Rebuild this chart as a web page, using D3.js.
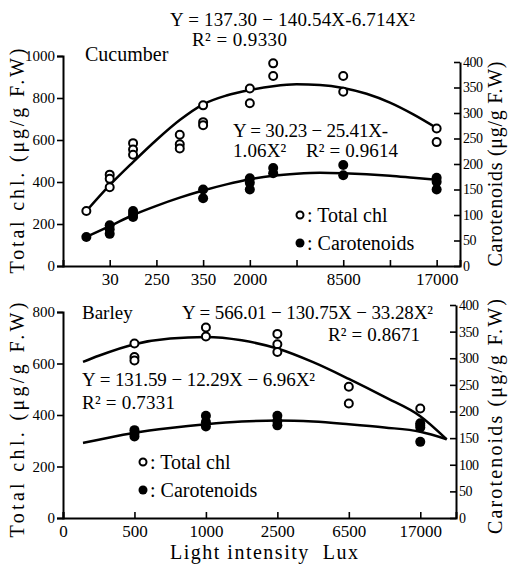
<!DOCTYPE html>
<html><head><meta charset="utf-8">
<script src="https://cdn.jsdelivr.net/npm/d3@7"></script>
<style>
body{margin:0;background:#fff;}
</style></head>
<body>
<script>
// ---------- DATA ----------
// Cucumber (top panel): x = ordinal level position
const cucTickPos = [1,2,3,4,5,6,7,8];
const cucTickLabels = ["30","250","350","2000","","8500","","17000"];
const cucChl = [[0.5,262],[1,435],[1,415],[1,375],[1.5,585],[1.5,555],[1.5,530],[2.5,625],[2.5,580],[2.5,560],
  [3,765],[3,685],[3,670],[4,845],[4,775],[4.5,965],[4.5,905],[6,905],[6,830],[8,655],[8,590]];
const cucCar = [[0.5,57],[1,80],[1,72],[1,63],[1.5,108],[1.5,102],[1.5,96],[3,150],[3,133],[4,172],[4,163],[4,150],
  [4.5,192],[4.5,182],[6,198],[6,178],[8,173],[8,165],[8,150]];
const cucChlFit = [[0.5,262],[1,385],[1.5,495],[2,600],[2.5,695],[3,770],[3.5,812],[4,838],[4.5,856],[5,865],[5.5,862],
  [6,848],[6.5,820],[7,778],[7.5,722],[8,657]];
const cucCarFit = [[0.5,57],[1,78],[1.5,100],[2,118],[2.5,134],[3,148],[3.5,160],[4,170],[4.5,177],[5,181],[5.5,183],
  [6,182],[6.5,180],[7,177],[7.5,173],[8,169]];
const cucLeftTicks = [0,200,400,600,800,1000];
const rightTicks = [0,50,100,150,200,250,300,350,400];

// Barley (bottom panel)
const barTickPos = [0,1,2,3,4,5];
const barTickLabels = ["0","500","1000","2500","6500","17000"];
const barChl = [[1,678],[1,625],[1,612],[2,740],[2,705],[3,715],[3,675],[3,645],[4,510],[4,445],[5,425],[5,360]];
const barCar = [[1,165],[1,158],[1,153],[2,192],[2,180],[2,172],[3,192],[3,182],[3,174],[5,178],[5,170],[5,143]];
const barChlFit = [[0.28,606],[0.5,630],[1,675],[1.5,697],[2,703],[2.5,690],[3,658],[3.5,605],[4,540],[4.5,470],[5,395],[5.37,305]];
const barCarFit = [[0.28,141],[0.5,147],[1,160],[1.5,169],[2,176],[2.5,181],[3,183],[3.5,181],[4,176],[4.5,170],[5,162],[5.37,148]];
const barLeftTicks = [0,200,400,600,800];

// ---------- DRAW ----------
const FONT = "'Liberation Serif', 'Times New Roman', 'DejaVu Serif', serif";
const W = 511, H = 567;
const svg = d3.select("body").append("svg").attr("width", W).attr("height", H)
  .attr("font-family", FONT).style("display","block");

function panel(cfg){
  const x = d3.scaleLinear().domain(cfg.xDom).range(cfg.xRange);
  const yL = d3.scaleLinear().domain(cfg.yLDom).range(cfg.yLRange);
  const yR = d3.scaleLinear().domain([0,400]).range(cfg.yRRange);
  const g = svg.append("g");

  const la = g.append("g").attr("transform",`translate(${cfg.xRange[0]},0)`)
    .call(d3.axisLeft(yL).tickValues(cfg.leftTicks).tickFormat(d3.format("d")).tickSizeOuter(0).tickSize(6).tickPadding(2));
  const ra = g.append("g").attr("transform",`translate(${cfg.xRange[1]},0)`)
    .call(d3.axisRight(yR).tickValues(rightTicks).tickFormat(d3.format("d")).tickSizeOuter(0).tickSizeInner(-6).tickPadding(3));
  const ba = g.append("g").attr("transform",`translate(0,${cfg.yLRange[0]})`)
    .call(d3.axisBottom(x).tickValues(cfg.tickPos).tickFormat((d,i)=>cfg.tickLabels[i])
      .tickSizeOuter(0).tickSize(-6).tickPadding(7));
  [la,ra,ba].forEach(a=>{
    a.attr("font-family", FONT);
    a.select(".domain").attr("stroke","#000").attr("stroke-width",2);
    a.selectAll(".tick line").attr("stroke","#000").attr("stroke-width",1.6);
    a.selectAll("text").attr("fill","#000").attr("font-family", FONT);
  });
  la.attr("font-size",15); la.selectAll("text").attr("font-size",15);
  ra.attr("font-size",14); ra.selectAll("text").attr("font-size",14).attr("letter-spacing","-0.5");
  ba.attr("font-size",17); ba.selectAll("text").attr("font-size",17);

  const lineL = d3.line().x(d=>x(d[0])).y(d=>yL(d[1])).curve(d3.curveMonotoneX);
  const lineR = d3.line().x(d=>x(d[0])).y(d=>yR(d[1])).curve(d3.curveMonotoneX);
  g.append("path").datum(cfg.chlFit).attr("d",lineL).attr("fill","none").attr("stroke","#000").attr("stroke-width",2.5);
  g.append("path").datum(cfg.carFit).attr("d",lineR).attr("fill","none").attr("stroke","#000").attr("stroke-width",2.5);

  g.selectAll(null).data(cfg.chl).enter().append("circle")
    .attr("cx",d=>x(d[0])).attr("cy",d=>yL(d[1])).attr("r",4)
    .attr("fill","#fff").attr("stroke","#000").attr("stroke-width",2);
  g.selectAll(null).data(cfg.car).enter().append("circle")
    .attr("cx",d=>x(d[0])).attr("cy",d=>yR(d[1])).attr("r",5).attr("fill","#000");

  const midL = (cfg.yLRange[0]+cfg.yLRange[1])/2 + cfg.leftTitleShift;
  g.append("text").attr("transform",`translate(24,${midL}) rotate(-90)`)
    .attr("text-anchor","middle").attr("font-size",20).attr("font-family",FONT)
    .attr("textLength",cfg.leftTitleLen).attr("lengthAdjust","spacing")
    .text("Total chl. (μg/g F.W)");
  const midR = (cfg.yRRange[0]+cfg.yRRange[1])/2 + cfg.rightTitleShift;
  g.append("text").attr("transform",`translate(502,${midR}) rotate(-90)`)
    .attr("text-anchor","middle").attr("font-size",20).attr("font-family",FONT)
    .attr("textLength",cfg.rightTitleLen).attr("lengthAdjust","spacing")
    .text("Carotenoids (μg/g F.W)");

  cfg.texts.forEach(t=>{
    const el = g.append("text").attr("x",t.x).attr("y",t.y).attr("font-size",t.fs||19)
      .attr("font-family",FONT).style("white-space","pre").text(t.s);
    if(t.len) el.attr("textLength",t.len).attr("lengthAdjust","spacing");
  });
  g.append("circle").attr("cx",cfg.leg[0]).attr("cy",cfg.leg[1]).attr("r",3.5)
    .attr("fill","#fff").attr("stroke","#000").attr("stroke-width",2);
  g.append("circle").attr("cx",cfg.leg[0]).attr("cy",cfg.leg[1]+28).attr("r",4.5).attr("fill","#000");
  g.append("text").attr("x",cfg.leg[0]+7).attr("y",cfg.leg[1]+7).attr("font-size",20).attr("font-family",FONT).text(": Total chl");
  g.append("text").attr("x",cfg.leg[0]+7).attr("y",cfg.leg[1]+35).attr("font-size",20).attr("font-family",FONT).text(": Carotenoids");
}

panel({
  xDom:[0,8.5], xRange:[63,460],
  yLDom:[0,1000], yLRange:[266,56], yRRange:[266,62],
  leftTicks:cucLeftTicks, tickPos:cucTickPos, tickLabels:cucTickLabels,
  chl:cucChl, car:cucCar, chlFit:cucChlFit, carFit:cucCarFit,
  leftTitleShift:0, leftTitleLen:225, rightTitleShift:0, rightTitleLen:205,
  leg:[300,215],
  texts:[
    {x:170,y:26,s:"Y = 137.30 − 140.54X-6.714X²",len:245},
    {x:192,y:46,s:"R² = 0.9330",len:95},
    {x:85,y:61,s:"Cucumber",fs:20},
    {x:233,y:137,s:"Y = 30.23 − 25.41X-",len:155},
    {x:233,y:157,s:"1.06X²\u00a0\u00a0\u00a0\u00a0R² = 0.9614",len:165}
  ]
});

panel({
  xDom:[0,5.5], xRange:[63,456],
  yLDom:[0,800], yLRange:[518,312], yRRange:[518,305],
  leftTicks:barLeftTicks, tickPos:barTickPos, tickLabels:barTickLabels,
  chl:barChl, car:barCar, chlFit:barChlFit, carFit:barCarFit,
  leftTitleShift:5, leftTitleLen:235, rightTitleShift:5, rightTitleLen:235,
  leg:[143,462],
  texts:[
    {x:82,y:319,s:"Barley",fs:19},
    {x:182,y:319,s:"Y = 566.01 − 130.75X − 33.28X²",len:251},
    {x:328,y:341,s:"R² = 0.8671",len:92},
    {x:82,y:386,s:"Y = 131.59 − 12.29X − 6.96X²",len:233},
    {x:82,y:409,s:"R² = 0.7331",len:93},
    {x:170,y:559,s:"Light intensity\u00a0\u00a0Lux",len:188,fs:20}
  ]
});
</script>
</body></html>
